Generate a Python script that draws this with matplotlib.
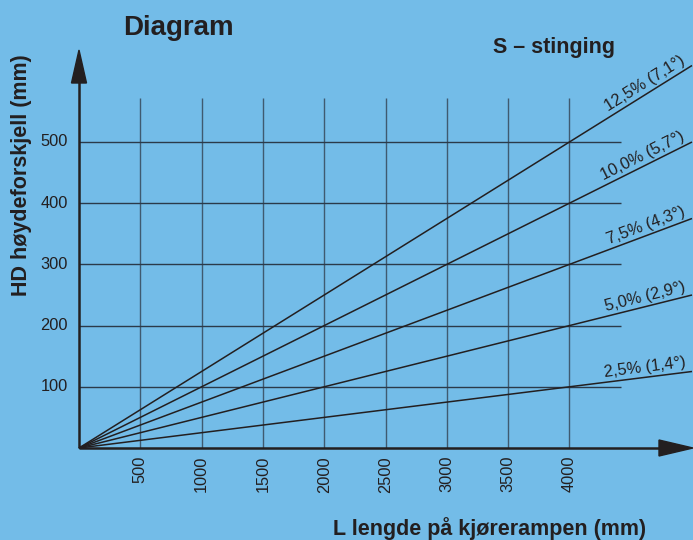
import numpy as np
import matplotlib.pyplot as plt
from matplotlib.patches import Polygon

# Gradients (S - stinging) and their angle labels
slopes_pct = [12.5, 10.0, 7.5, 5.0, 2.5]
slope_labels = ["12,5% (7,1°)", "10,0% (5,7°)", "7,5% (4,3°)", "5,0% (2,9°)", "2,5% (1,4°)"]

x_ticks = [500, 1000, 1500, 2000, 2500, 3000, 3500, 4000]
y_ticks = [100, 200, 300, 400, 500]
x_line_end = 5000

BG = "#73bce8"
INK = "#231f20"
W, H = 693, 540
fig = plt.figure(figsize=(W / 100, H / 100), dpi=100, facecolor=BG)
ax = fig.add_axes([0, 0, 1, 1])
ax.set_facecolor(BG)
ax.axis("off")

# pixel scale: origin at (79, 448) px, 500 mm in x = 61.3 px, 100 mm in y = 61.2 px
ox, oy = 79, 448
sx = 61.3 / 500
sy = 61.2 / 100
ax.set_xlim(-ox / sx, (W - ox) / sx)
ax.set_ylim(-(H - oy) / sy, oy / sy)

def px(x, y):
    """pixel (from top-left) -> data coordinates"""
    return (x - ox) / sx, (oy - y) / sy

font = "Liberation Sans"

# grid
grid_top = px(0, 98)[1]
grid_right = px(621, 0)[0]
ax.vlines(x_ticks, 0, grid_top, color="#3f5a70", lw=1.0, zorder=1)
ax.hlines(y_ticks, 0, grid_right, color="#2b3a4a", lw=1.0, zorder=1)

# gradient lines
xs = np.array([0, x_line_end])
for p in slopes_pct:
    ax.plot(xs, xs * p / 100, color=INK, lw=1.1, zorder=3, solid_capstyle="butt")

# axes with arrowheads
ax.plot([0, 0], [0, px(0, 80)[1]], color=INK, lw=1.8, zorder=4, solid_capstyle="butt")
ax.plot([0, px(662, 0)[0]], [0, 0], color=INK, lw=1.8, zorder=4, solid_capstyle="butt")
ax.add_patch(Polygon([px(79, 50), px(71.5, 83), px(86.5, 83)], closed=True,
                     color=INK, zorder=5))
ax.add_patch(Polygon([px(693, 448), px(659, 440), px(659, 456)], closed=True,
                     color=INK, zorder=5))

# tick labels
for v in y_ticks:
    ax.text(px(68, 0)[0], v, str(v), ha="right", va="center", fontsize=11.8,
            family=font, color=INK)
for v in x_ticks:
    ax.text(v, px(0, 456)[1], str(v), ha="center", va="top", rotation=90,
            fontsize=11.8, family=font, color=INK)

# slope labels along the lines
fig.canvas.draw()
for p, lab in zip(slopes_pct, slope_labels):
    xa = 4960
    ya = xa * p / 100
    p1 = ax.transData.transform((0, 0))
    p2 = ax.transData.transform((x_line_end, x_line_end * p / 100))
    ang = np.degrees(np.arctan2(p2[1] - p1[1], p2[0] - p1[0]))
    ax.text(xa, ya + 2.5 / sy, lab, ha="right", va="bottom", rotation=ang,
            rotation_mode="anchor", fontsize=11.8, family=font, color=INK)

# titles and axis labels
fig.text(178 / W, 1 - 35 / H, "Diagram", ha="center", va="baseline",
         fontsize=20, fontweight="bold", family=font, color=INK)
fig.text(554 / W, 1 - 53 / H, "S – stinging", ha="center", va="baseline",
         fontsize=15.5, fontweight="bold", family=font, color=INK)
fig.text(22 / W, 1 - 175 / H, "HD høydeforskjell (mm)", ha="center", va="center",
         rotation=90, fontsize=15.5, fontweight="bold", family=font, color=INK)
fig.text(490 / W, 1 - 535 / H, "L lengde på kjørerampen (mm)", ha="center",
         va="baseline", fontsize=15.5, fontweight="bold", family=font, color=INK)

fig.savefig("out.png", dpi=100, facecolor=BG)
